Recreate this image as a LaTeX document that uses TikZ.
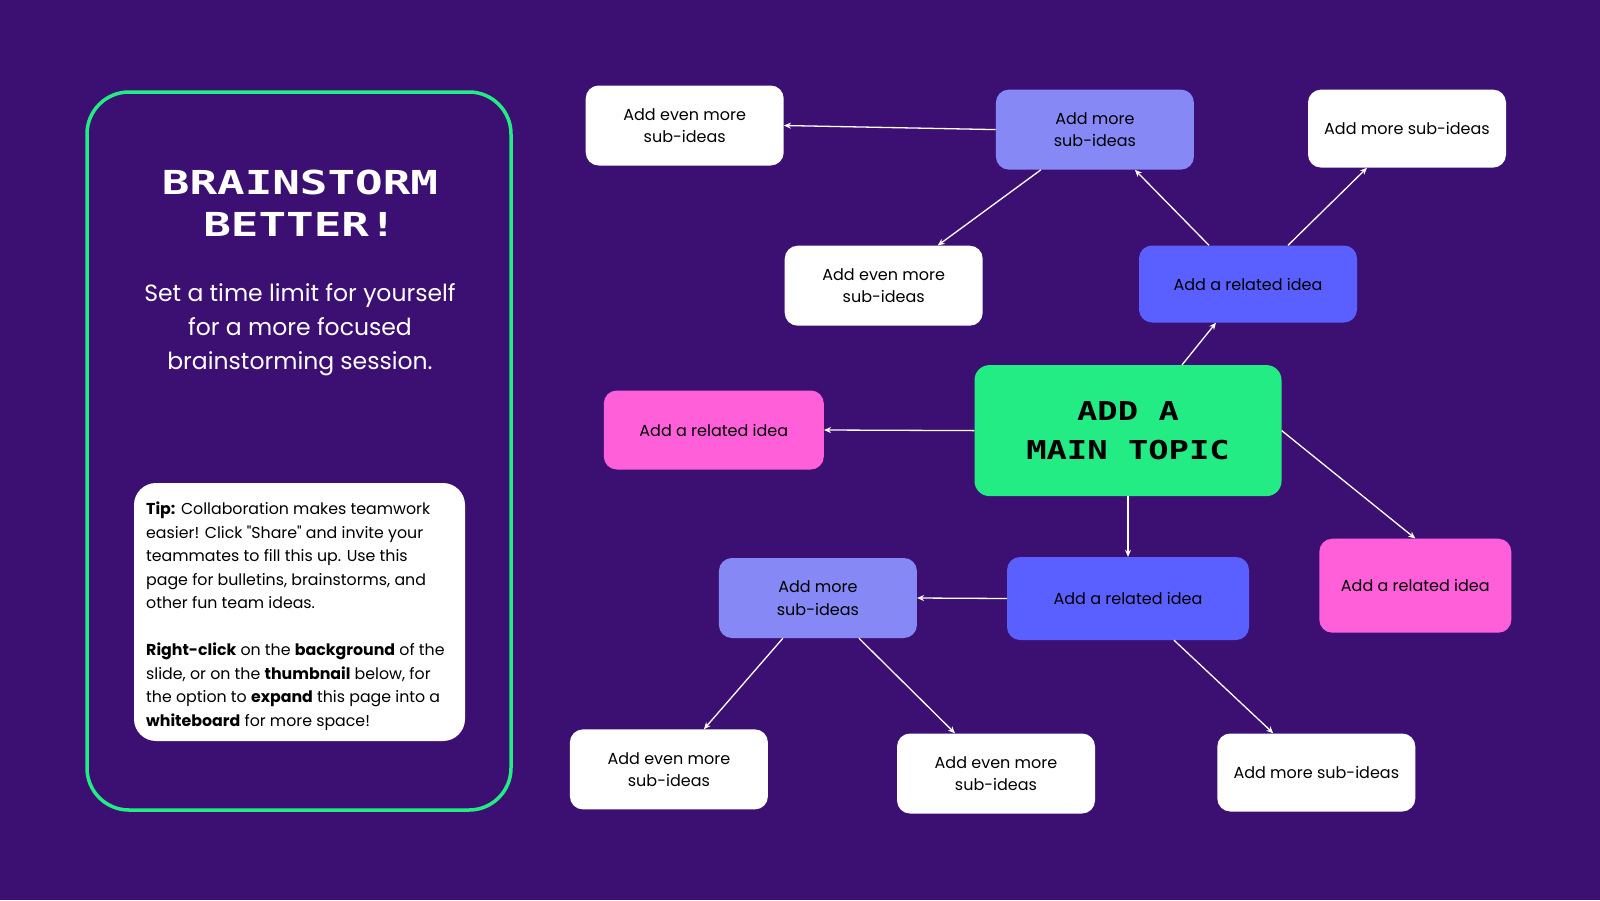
\documentclass[tikz,border=0pt]{standalone}
\usepackage{fontspec}
\setmainfont{Poppins}[Ligatures=TeXOff]
\newfontfamily\pixelfont{DejaVu Sans Mono}
\usetikzlibrary{arrows.meta}
\definecolor{bgpurple}{RGB}{60,16,114}
\definecolor{topicgreen}{RGB}{36,236,132}
\definecolor{subblue}{RGB}{134,137,245}
\definecolor{ideablue}{RGB}{90,95,255}
\definecolor{ideapink}{RGB}{255,96,218}

\begin{document}
\begin{tikzpicture}[x=1pt,y=-1pt,
		box/.style={rounded corners=13pt, inner sep=0pt, align=center, minimum width=198pt, minimum height=80pt, font=\fontsize{16}{22.5}\selectfont},
		whitebox/.style={box, fill=white},
		subbox/.style={box, fill=subblue},
		ideabox/.style={box, fill=ideablue},
		pinkbox/.style={box, fill=ideapink},
		link/.style={draw=white, line width=1.3pt, -{Stealth[length=7pt,width=6pt]}}]
			\fill[bgpurple] (0,0) rectangle (1600,900);
			% left panel
			\draw[topicgreen, line width=3.5pt, rounded corners=42pt] (87,92) rectangle (511,810);
			\node[white, align=center, inner sep=0pt, font=\pixelfont\bfseries\fontsize{33}{42}\selectfont] (title) at (300,203) {\scalebox{1.39}[1]{BRAINSTORM}\\\scalebox{1.39}[1]{BETTER!}};
			\node[white, align=center, inner sep=0pt, font=\fontsize{23.5}{34}\selectfont] (intro) at (300,330) {Set a time limit for yourself\\for a more focused\\brainstorming session.};
			\fill[white, rounded corners=22pt] (134,483) rectangle (465,741);
			\node[anchor=north west, align=left, inner sep=0pt, font=\fontsize{15.8}{23.5}\selectfont] (tip) at (146,502) {\textbf{Tip:} Collaboration makes teamwork\\easier! Click "Share" and invite your\\teammates to fill this up. Use this\\page for bulletins, brainstorms, and\\other fun team ideas.\\[23.5pt]\textbf{Right-click} on the \textbf{background} of the\\slide, or on the \textbf{thumbnail} below, for\\the option to \textbf{expand} this page into a\\\textbf{whiteboard} for more space!};
			% mind map
			\node[box, fill=topicgreen, rounded corners=15pt, minimum width=307pt, minimum height=131pt, font=\pixelfont\bfseries\fontsize{26}{39}\selectfont] (main) at (1128,430.6) {\scalebox{1.3}[1]{ADD A}\\\scalebox{1.3}[1]{MAIN TOPIC}};
			\node[ideabox, minimum width=218pt, minimum height=77pt] (relA) at (1248,284) {Add a related idea};
			\node[pinkbox, minimum width=220pt, minimum height=79pt] (relB) at (713.8,430) {Add a related idea};
			\node[pinkbox, minimum width=192pt, minimum height=94pt] (relC) at (1415.3,585.7) {Add a related idea};
			\node[ideabox, minimum width=242pt, minimum height=83pt] (relD) at (1128,598.5) {Add a related idea};
			\node[subbox] (subA) at (1094.9,129.6) {Add more\\sub-ideas};
			\node[subbox] (subB) at (817.9,598) {Add more\\sub-ideas};
			\node[whitebox, minimum height=78pt] (moreA) at (1407,128.6) {Add more sub-ideas};
			\node[whitebox, minimum height=78pt] (moreB) at (1316.3,772.5) {Add more sub-ideas};
			\node[whitebox] (evenA) at (684.7,125.5) {Add even more\\sub-ideas};
			\node[whitebox] (evenB) at (883.7,285.7) {Add even more\\sub-ideas};
			\node[whitebox] (evenC) at (668.9,769.4) {Add even more\\sub-ideas};
			\node[whitebox] (evenD) at (996,773.5) {Add even more\\sub-ideas};
			\draw[link] ([xshift=54pt]main.north) -- ([xshift=-32pt]relA.south);
			\draw[link] (main.west) -- (relB.east);
			\draw[link] (main.east) -- (relC.north);
			\draw[link] (main.south) -- (relD.north);
			\draw[link] ([xshift=-39pt]relA.north) -- ([xshift=40pt]subA.south);
			\draw[link] ([xshift=40pt]relA.north) -- ([xshift=-40pt]moreA.south);
			\draw[link] (subA.west) -- (evenA.east);
			\draw[link] ([xshift=-54pt]subA.south) -- ([xshift=54pt]evenB.north);
			\draw[link] (relD.west) -- (subB.east);
			\draw[link] ([xshift=46pt]relD.south) -- ([xshift=-43pt]moreB.north);
			\draw[link] ([xshift=-35pt]subB.south) -- ([xshift=35pt]evenC.north);
			\draw[link] ([xshift=41pt]subB.south) -- ([xshift=-41pt]evenD.north);
			\end{tikzpicture}
\end{document}
